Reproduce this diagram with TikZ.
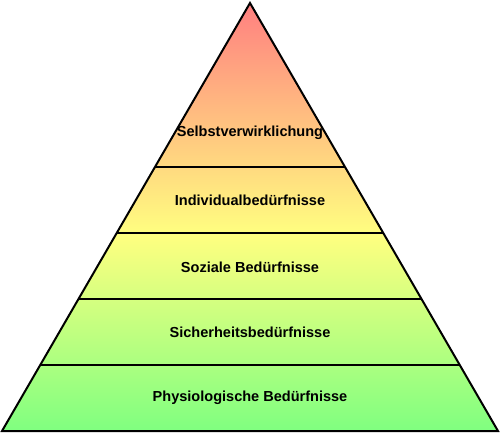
\documentclass[tikz,border=0pt]{standalone}
\usepackage{fontspec}
\setmainfont{Liberation Sans}
\usetikzlibrary{calc}
\pgfdeclareverticalshading{pyrshade}{100bp}{rgb(0bp)=(0.5,1,0.5); rgb(25bp)=(0.5,1,0.5); rgb(47.9bp)=(1,1,0.5); rgb(75bp)=(1,0.5,0.5); rgb(100bp)=(1,0.5,0.5)}
\begin{document}
\begin{tikzpicture}[x=0.75pt,y=-0.75pt,
  lab/.style={font=\fontsize{10.9pt}{12pt}\selectfont\bfseries, text=black, inner sep=0pt},
  edge/.style={draw=black, line width=1.5pt}]
\useasboundingbox (0,0) rectangle (500,433);
\coordinate (A) at (250,3);
\coordinate (L) at (2,431);
\coordinate (R) at (498,431);
\shade[shading=pyrshade] (A) -- (L) -- (R) -- cycle;
\foreach \t/\n in {0.3832/a,0.5374/b,0.6916/c,0.8458/d}{
  \coordinate (l\n) at ($(A)!\t!(L)$);
  \coordinate (r\n) at ($(A)!\t!(R)$);
  \draw[edge] (l\n) -- (r\n);
}
\draw[edge, line join=miter] (A) -- (L) -- (R) -- cycle;
\node[lab] (n1) at (250,133) {Selbstverwirklichung};
\node[lab] (n2) at (250,200) {Individualbedürfnisse};
\node[lab] (n3) at (250,267) {Soziale Bedürfnisse};
\node[lab] (n4) at (250,332) {Sicherheitsbedürfnisse};
\node[lab] (n5) at (250,398) {Physiologische Bedürfnisse};
\end{tikzpicture}
\end{document}
